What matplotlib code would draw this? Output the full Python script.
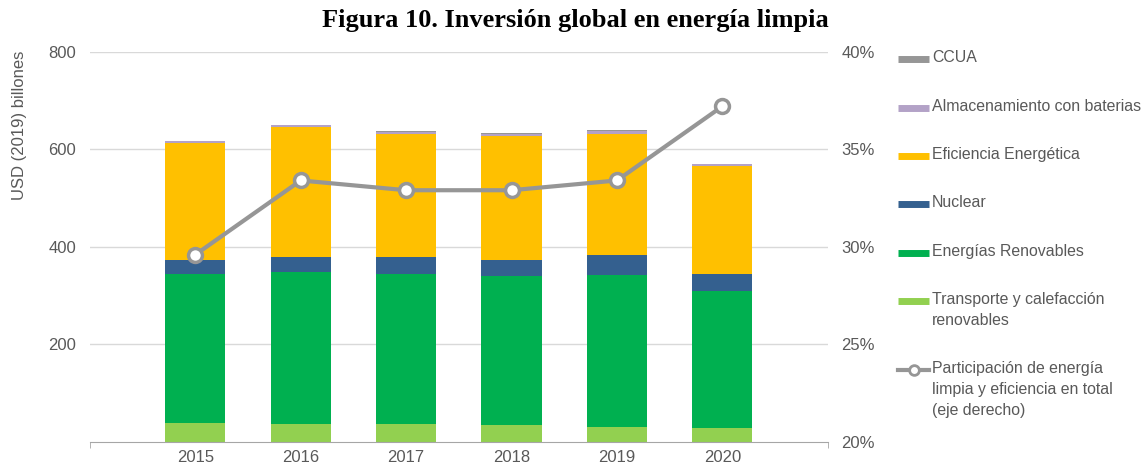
import matplotlib.pyplot as plt
from matplotlib.lines import Line2D
from matplotlib.ticker import FuncFormatter

# Data
years = ["2015", "2016", "2017", "2018", "2019", "2020"]
transporte = [38, 36, 36, 34, 31, 28]
renovables = [306, 312, 308, 307, 312, 282]
nuclear = [29, 32, 35, 33, 40, 34]
eficiencia = [240, 266, 252, 253, 249, 222]
baterias = [3, 4, 5, 5, 6, 3]
ccua = [0.5, 0.5, 0.5, 0.5, 0.5, 0.5]
participacion = [29.6, 33.4, 32.9, 32.9, 33.4, 37.2]

series = [
    ("Transporte y calefacción\nrenovables", transporte, "#92D050"),
    ("Energías Renovables", renovables, "#00B050"),
    ("Nuclear", nuclear, "#34608F"),
    ("Eficiencia Energética", eficiencia, "#FFC000"),
    ("Almacenamiento con baterias", baterias, "#B3A2C7"),
    ("CCUA", ccua, "#969696"),
]
line_color = "#969696"
text_color = "#595959"

plt.rcParams["font.family"] = ["Liberation Sans", "DejaVu Sans"]

fig = plt.figure(figsize=(11.45, 4.68), dpi=100)
ax = fig.add_axes([0.0786, 0.0556, 0.6443, 0.834])

x = list(range(len(years)))
bottom = [0] * len(years)
for name, vals, color in series:
    ax.bar(x, vals, width=0.571, bottom=bottom, color=color, zorder=2)
    bottom = [b + v for b, v in zip(bottom, vals)]

ax.set_xlim(-1.0, 6.0)
ax.set_ylim(0, 800)
ax.set_yticks([200, 400, 600, 800])
ax.set_xticks(x)
ax.set_xticklabels(years)
ax.grid(axis="y", color="#D9D9D9", linewidth=1, zorder=0)
for s in ["top", "left", "right"]:
    ax.spines[s].set_visible(False)
ax.spines["bottom"].set_color("#A6A6A6")
ax.tick_params(axis="x", length=0, pad=6, labelsize=12, labelcolor=text_color)
ax.tick_params(axis="y", length=0, pad=10, labelsize=12, labelcolor=text_color)
# small end ticks on the category axis
ax.set_xticks([-1.0, 6.0], minor=True)
ax.tick_params(axis="x", which="minor", length=4, color="#A6A6A6")

ax2 = ax.twinx()
ax2.plot(x, participacion, color=line_color, linewidth=3, marker="o",
         markersize=10, markerfacecolor="white", markeredgecolor=line_color,
         markeredgewidth=2.5, zorder=3)
ax2.set_ylim(20, 40)
ax2.set_yticks([20, 25, 30, 35, 40])
ax2.yaxis.set_major_formatter(FuncFormatter(lambda v, p: f"{v:.0f}%"))
for s in ax2.spines.values():
    s.set_visible(False)
ax2.tick_params(axis="y", length=0, pad=10, labelsize=12, labelcolor=text_color)

fig.text(20 / 1145, 1 - 125 / 468, "USD (2019) billones", rotation=90,
         ha="center", va="center", fontsize=12, color=text_color)

fig.text(575 / 1145, 1 - 20 / 468, "Figura 10. Inversión global en energía limpia",
         ha="center", va="center", fontsize=19, fontweight="bold",
         family=["Liberation Serif", "DejaVu Serif"], color="black")

# Legend drawn by hand so multi-line labels line up like the original
legend_items = [(n, c) for n, v, c in reversed(series)]
ys = [59, 108, 156, 204, 253, 301]
for (name, color), yp in zip(legend_items, ys):
    yf = 1 - yp / 468
    fig.add_artist(Line2D([898 / 1145, 929 / 1145], [yf, yf], color=color,
                          linewidth=5, solid_capstyle="butt"))
    fig.text(932 / 1145, yf + 9 / 468, name, ha="left", va="top",
             fontsize=11.4, color=text_color, linespacing=1.5)
yf = 1 - 370 / 468
fig.add_artist(Line2D([898 / 1145, 929 / 1145], [yf, yf], color=line_color,
                      linewidth=3))
fig.add_artist(Line2D([913.5 / 1145], [yf], marker="o", markersize=7,
                      markerfacecolor="white", markeredgecolor=line_color,
                      markeredgewidth=2))
fig.text(932 / 1145, yf + 9 / 468,
         "Participación de energía\nlimpia y eficiencia en total\n(eje derecho)",
         ha="left", va="top", fontsize=11.4, color=text_color, linespacing=1.5)

fig.savefig("out.png", dpi=100)
